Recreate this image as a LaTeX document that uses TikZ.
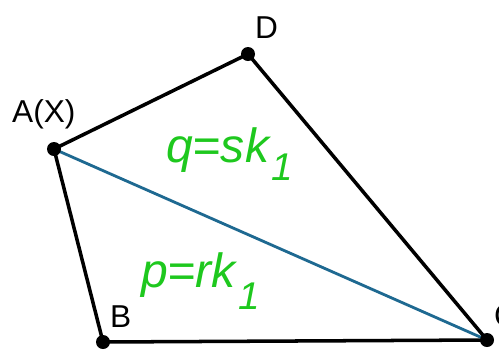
\documentclass[tikz,border=0pt]{standalone}
\usepackage{fontspec}
\setmainfont{Liberation Sans}
\definecolor{edgeblue}{RGB}{30,105,145}
\definecolor{labgreen}{RGB}{30,200,30}
\newcommand{\lowone}[1]{\hspace{0.06em}\raisebox{#1}{\fontsize{33}{33}\selectfont\itshape 1}}

\begin{document}
\begin{tikzpicture}[
    x=0.03cm, y=-0.03cm,
    side/.style={line width=3pt, line join=round},
    diag/.style={line width=2.4pt, draw=edgeblue},
    vert/.style={circle, fill=black, inner sep=0pt, minimum size=0.42cm},
    lab/.style={anchor=base west, inner sep=0pt, font=\fontsize{27}{27}\selectfont},
    eq/.style={anchor=base west, inner sep=0pt, text=labgreen, font=\fontsize{41}{41}\selectfont\itshape}
]
\useasboundingbox (0,0) rectangle (499,352);

% corner points
\coordinate (A) at (54,149);
\coordinate (D) at (248,54);
\coordinate (B) at (103,342);
\coordinate (C) at (487,340);

% quadrilateral and diagonal
\draw[side] (A) -- (D) -- (C) -- (B) -- cycle;
\draw[diag] (A) -- (C);

% vertex dots
\foreach \p in {A,B,C,D}
    \node[vert] (dot\p) at (\p) {};

% vertex names
\node[lab] (labA) at (12,122) {A(X)};
\node[lab] (labD) at (255,38) {D};
\node[lab] (labB) at (110,327) {B};
\node[lab] (labC) at (494,326) {C};

% area labels
\node[eq] (eqq) at (166,162) {q=sk\lowone{-15.4pt}};
\node[eq] (eqp) at (141,287) {p=rk\lowone{-18.8pt}};

\end{tikzpicture}
\end{document}
